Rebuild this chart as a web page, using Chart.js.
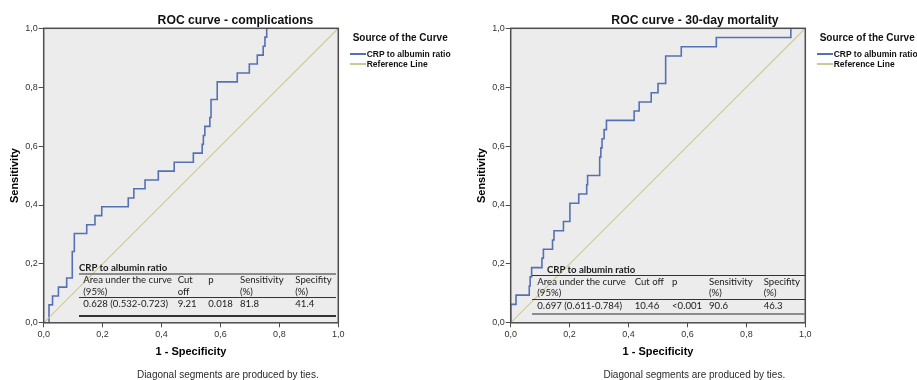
<!DOCTYPE html>
<html>
<head>
<meta charset="utf-8">
<script src="https://cdn.jsdelivr.net/npm/chart.js@4.4.1/dist/chart.umd.min.js"></script>
<style>
  html, body { margin: 0; padding: 0; background: #fff; }
  #wrap { position: relative; width: 917px; height: 380px; overflow: hidden; background: #fff; }
  .panel { position: absolute; top: 0; width: 467px; height: 380px; }
  .panel canvas { position: absolute; left: 0; top: 0; }
  .t { position: absolute; white-space: nowrap; }
  .ttl { font: bold 12.2px "Liberation Sans", Arial, sans-serif; color: #111; line-height: 14px; text-align: center; }
  .lgh { font: bold 10px "Liberation Sans", Arial, sans-serif; color: #111; line-height: 12px; }
  .lgi { font: bold 8.5px "Liberation Sans", Arial, sans-serif; color: #111; line-height: 10px; }
  .foot { font: 10px "Liberation Sans", Arial, sans-serif; color: #2a2a2a; line-height: 12px; text-align: center; }
  .tb { font: 9.6px Lato, "Open Sans", sans-serif; color: #1a1a1a; line-height: 11.7px; }
  .tbh { font: bold 9.6px Lato, "Open Sans", sans-serif; color: #1a1a1a; line-height: 12px; }
  .hl { position: absolute; }
</style>
</head>
<body>
<div id="wrap">
  <div class="panel" id="p1" style="left:0px"><canvas id="c1" width="467" height="380"></canvas></div>
  <div class="panel" id="p2" style="left:467px"><canvas id="c2" width="467" height="380"></canvas></div>
</div>
<script>
// ---------------- data ----------------
const chartTitles = ['ROC curve - complications', 'ROC curve - 30-day mortality'];
const xAxisTitle = '1 - Specificity';
const yAxisTitle = 'Sensitivity';
const legendTitle = 'Source of the Curve';
const seriesNames = ['CRP to albumin ratio', 'Reference Line'];
const footnote = 'Diagonal segments are produced by ties.';
const tickValues = [0, 0.2, 0.4, 0.6, 0.8, 1.0];
const tickLabels = ['0,0', '0,2', '0,4', '0,6', '0,8', '1,0'];

// ROC curve - complications (1 - specificity, sensitivity)
const compFpr = [0, 0.018, 0.018, 0.030, 0.030, 0.050, 0.050, 0.078, 0.078, 0.097, 0.097, 0.104, 0.104,
  0.146, 0.146, 0.174, 0.174, 0.197, 0.197, 0.287, 0.287, 0.306, 0.306, 0.344, 0.344, 0.389, 0.389,
  0.443, 0.443, 0.508, 0.508, 0.538, 0.538, 0.542, 0.542, 0.547, 0.547, 0.564, 0.564, 0.568, 0.568,
  0.589, 0.589, 0.657, 0.657, 0.698, 0.698, 0.725, 0.725, 0.745, 0.745, 0.751, 0.751, 0.757, 0.757, 1.0];
const compTpr = [0, 0, 0.061, 0.061, 0.091, 0.091, 0.121, 0.121, 0.152, 0.152, 0.242, 0.242, 0.303,
  0.303, 0.333, 0.333, 0.364, 0.364, 0.394, 0.394, 0.424, 0.424, 0.455, 0.455, 0.485, 0.485, 0.515,
  0.515, 0.545, 0.545, 0.576, 0.576, 0.606, 0.606, 0.636, 0.636, 0.667, 0.667, 0.697, 0.697, 0.758,
  0.758, 0.818, 0.818, 0.848, 0.848, 0.879, 0.879, 0.909, 0.909, 0.939, 0.939, 0.970, 0.970, 1.0, 1.0];

// ROC curve - 30-day mortality
const mortFpr = [0, 0, 0.018, 0.018, 0.063, 0.063, 0.066, 0.066, 0.071, 0.071, 0.106, 0.106, 0.111,
  0.111, 0.142, 0.142, 0.147, 0.147, 0.179, 0.179, 0.201, 0.201, 0.231, 0.231, 0.258, 0.258, 0.261,
  0.261, 0.300, 0.300, 0.303, 0.303, 0.306, 0.306, 0.310, 0.310, 0.317, 0.317, 0.325, 0.325, 0.419,
  0.419, 0.436, 0.436, 0.477, 0.477, 0.500, 0.500, 0.526, 0.526, 0.579, 0.579, 0.698, 0.698, 0.951,
  0.951, 1.0];
const mortTpr = [0, 0.0625, 0.0625, 0.094, 0.094, 0.125, 0.125, 0.156, 0.156, 0.1875, 0.1875, 0.219,
  0.219, 0.25, 0.25, 0.281, 0.281, 0.3125, 0.3125, 0.344, 0.344, 0.406, 0.406, 0.4375, 0.4375, 0.469,
  0.469, 0.5, 0.5, 0.531, 0.531, 0.5625, 0.5625, 0.594, 0.594, 0.625, 0.625, 0.656, 0.656, 0.6875,
  0.6875, 0.719, 0.719, 0.75, 0.75, 0.781, 0.781, 0.8125, 0.8125, 0.906, 0.906, 0.9375, 0.9375, 0.969,
  0.969, 1.0, 1.0];

const refFpr = [0, 1];
const refTpr = [0, 1];

// inset tables
const tableTitle = 'CRP to albumin ratio';
const compHeader = [['Area under the curve', '(95%)'], ['Cut', 'off'], ['p', ''], ['Sensitivity', '(%)'], ['Specifity', '(%)']];
const mortHeader = [['Area under the curve', '(95%)'], ['Cut off', ''], ['p', ''], ['Sensitivity', '(%)'], ['Specifity', '(%)']];
const compRow = ['0.628 (0.532-0.723)', '9.21', '0.018', '81.8', '41.4'];
const mortRow = ['0.697 (0.611-0.784)', '10.46', '<0.001', '90.6', '46.3'];

// ---------------- styling / layout ----------------
const CURVE_COLOR = '#5570b4';
const REF_COLOR = '#cdc995';
const PLOT_BG = '#ececec';
const FRAME = '#4d4d4d';

Chart.defaults.font.family = '"Liberation Sans", Arial, sans-serif';

const framePlugin = {
  id: 'frame',
  beforeDraw(chart) {
    const a = chart.chartArea, ctx = chart.ctx;
    ctx.save();
    ctx.fillStyle = PLOT_BG;
    ctx.fillRect(a.left, a.top, a.right - a.left, a.bottom - a.top);
    ctx.restore();
  },
  afterDatasetsDraw(chart) {
    const a = chart.chartArea, ctx = chart.ctx;
    ctx.save();
    ctx.strokeStyle = FRAME;
    ctx.lineWidth = 1.5;
    ctx.strokeRect(a.left, a.top, a.right - a.left, a.bottom - a.top);
    ctx.restore();
  }
};

function axisCfg(isX) {
  return {
    type: 'linear', min: 0, max: 1,
    afterBuildTicks: s => { s.ticks = tickValues.map(v => ({ value: v })); },
    afterFit: s => { if (isX) s.height = 40.2; else s.width = 43.7; },
    ticks: {
      callback: (v, i) => tickLabels[i],
      font: { size: 9 }, color: '#333', padding: isX ? 2 : 1,
      maxRotation: 0, autoSkip: false
    },
    grid: { drawOnChartArea: false, drawTicks: true, tickLength: isX ? 4.5 : 5, color: FRAME, lineWidth: 1 },
    border: { display: false },
    title: {
      display: true, text: isX ? xAxisTitle : yAxisTitle, color: '#000',
      font: { size: 11, weight: 'bold' },
      padding: isX ? { top: 4, bottom: 4 } : { top: 8.8, bottom: 0 }
    }
  };
}

function makeChart(canvasId, fpr, tpr) {
  const pts = fpr.map((x, i) => ({ x: x, y: tpr[i] }));
  const ref = refFpr.map((x, i) => ({ x: x, y: refTpr[i] }));
  return new Chart(document.getElementById(canvasId), {
    type: 'scatter',
    data: {
      datasets: [
        { label: seriesNames[1], data: ref, showLine: true, borderColor: REF_COLOR, borderWidth: 1.1, pointRadius: 0 },
        { label: seriesNames[0], data: pts, showLine: true, borderColor: CURVE_COLOR, borderWidth: 1.6, pointRadius: 0, tension: 0 }
      ]
    },
    options: {
      responsive: false, animation: false, devicePixelRatio: 1,
      layout: { padding: { left: 0, right: 128.7, top: 28.3, bottom: 17 } },
      plugins: { legend: { display: false }, title: { display: false }, tooltip: { enabled: false } },
      scales: { x: axisCfg(true), y: axisCfg(false) }
    },
    plugins: [framePlugin]
  });
}

makeChart('c1', compFpr, compTpr);
makeChart('c2', mortFpr, mortTpr);

// ---------------- overlays (real text) ----------------
function el(parent, cls, text, css) {
  const d = document.createElement('div');
  d.className = cls;
  if (text !== null) d.textContent = text;
  Object.assign(d.style, css);
  parent.appendChild(d);
  return d;
}

function decorate(panelId, cfg) {
  const p = document.getElementById(panelId);
  el(p, 't ttl', cfg.title, { left: '0px', width: (cfg.titleCx * 2) + 'px', top: '13px' });
  el(p, 't lgh', legendTitle, { left: '352.7px', top: '32.3px' });
  el(p, 'hl', null, { left: '350px', top: '53.3px', width: '16px', height: '1.5px', background: CURVE_COLOR });
  el(p, 't lgi', seriesNames[0], { left: '366.7px', top: '49px' });
  el(p, 'hl', null, { left: '350px', top: '63.3px', width: '16px', height: '1.5px', background: REF_COLOR });
  el(p, 't lgi', seriesNames[1], { left: '366.7px', top: '59px' });
  el(p, 't foot', footnote, { left: '0px', width: (cfg.footCx * 2) + 'px', top: '369px' });
  const tb = cfg.table;
  el(p, 't tbh', tableTitle, { left: tb.titleX + 'px', top: (tb.titleY - 6) + 'px' });
  tb.lines.forEach(l => {
    el(p, 'hl', null, { left: tb.x0 + 'px', width: (tb.x1 - tb.x0) + 'px', top: (l.y - l.w / 2) + 'px', height: l.w + 'px', background: l.c });
  });
  tb.header.forEach((h, i) => {
    el(p, 't tb', h[0], { left: tb.cols[i] + 'px', top: (tb.h1 - 5.85) + 'px' });
    if (h[1]) el(p, 't tb', h[1], { left: tb.cols[i] + 'px', top: (tb.h2 - 5.85) + 'px' });
  });
  tb.row.forEach((v, i) => {
    el(p, 't tb', v, { left: tb.cols[i] + 'px', top: (tb.r - 5.85) + 'px' });
  });
}

decorate('p1', {
  title: chartTitles[0], titleCx: 235.5, footCx: 227.8,
  table: {
    titleX: 79, titleY: 268.3, x0: 79, x1: 336,
    lines: [{ y: 274, w: 2, c: '#8c8c8c' }, { y: 297.3, w: 1, c: '#333' }, { y: 316, w: 1.5, c: '#333' }],
    header: compHeader, row: compRow,
    cols: [83.3, 177.7, 208.3, 240, 295.3], h1: 280, h2: 291.7, r: 304.3
  }
});
decorate('p2', {
  title: chartTitles[1], titleCx: 228, footCx: 227.3,
  table: {
    titleX: 80, titleY: 270, x0: 65.3, x1: 337.7,
    lines: [{ y: 275.7, w: 1.2, c: '#333' }, { y: 299.3, w: 1, c: '#333' }, { y: 314, w: 2, c: '#8c8c8c' }],
    header: mortHeader, row: mortRow,
    cols: [70.3, 167.7, 205, 242, 296.7], h1: 281.7, h2: 293.3, r: 306
  }
});
</script>
</body>
</html>
